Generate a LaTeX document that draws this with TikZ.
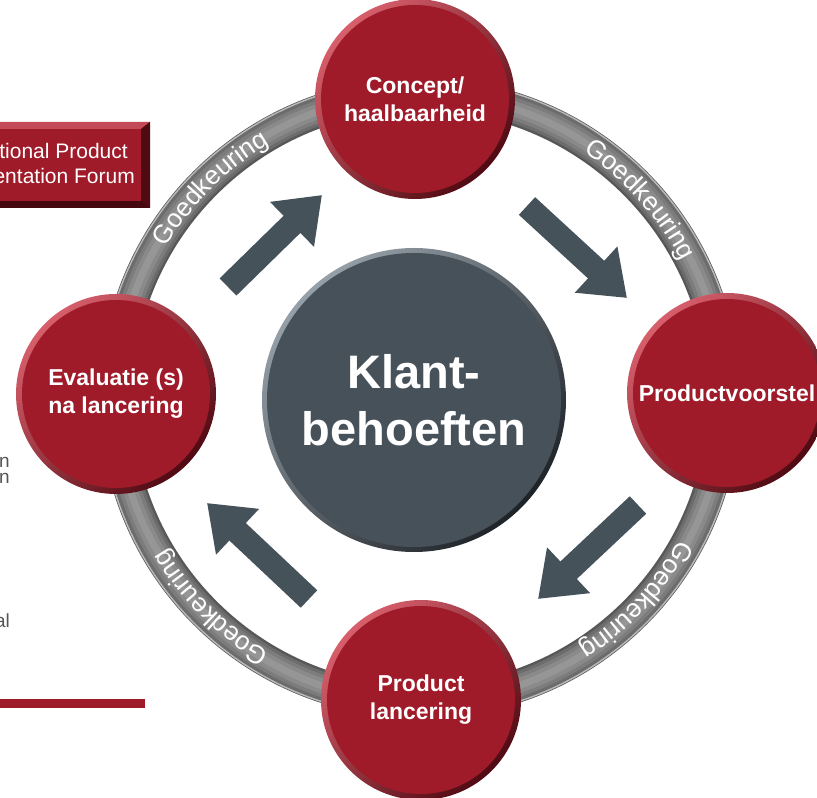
\documentclass[tikz,border=0pt]{standalone}
\usepackage{fontspec}
\setmainfont{Liberation Sans}
\usetikzlibrary{arrows.meta,decorations.text,calc}
\definecolor{redmain}{RGB}{160,27,42}
\definecolor{rimlight}{RGB}{215,95,108}
\definecolor{rimdark}{RGB}{80,10,18}
\definecolor{slatemain}{RGB}{71,81,90}
\definecolor{slatelight}{RGB}{150,160,168}
\definecolor{slatedark}{RGB}{30,35,40}
\definecolor{arrowc}{RGB}{70,82,90}
\definecolor{fragtext}{RGB}{85,85,85}
\definecolor{ringA}{RGB}{88,88,88}
\definecolor{ringB}{RGB}{108,108,108}
\definecolor{ringC}{RGB}{124,124,124}
\definecolor{ringD}{RGB}{138,138,138}
\definecolor{ringE}{RGB}{150,150,150}
\definecolor{ringH}{RGB}{185,185,185}
\definecolor{boxlight}{RGB}{195,75,88}
\definecolor{boxdark}{RGB}{70,8,15}
\newcommand{\ringfont}{\fontsize{26}{26}\selectfont}
\begin{document}
\begin{tikzpicture}[x=1pt,y=1pt,
  redball/.style={circle, minimum size=200pt, inner sep=0pt, draw=none,
    top color=rimlight, bottom color=rimdark, shading angle=45,
    path picture={\fill[redmain] (path picture bounding box.center) circle (94pt);},
    text=white, font=\bfseries\fontsize{23}{28}\selectfont, align=center},
  slateball/.style={circle, minimum size=304pt, inner sep=0pt, draw=none,
    top color=slatelight, bottom color=slatedark, shading angle=45,
    path picture={\fill[slatemain] (path picture bounding box.center) circle (147pt);},
    text=white, font=\bfseries\fontsize{47}{57}\selectfont, align=center},
  bigarrow/.style={line width=24pt, color=arrowc, -{Triangle[width=60pt,length=42pt]}},
  frag/.style={anchor=base east, inner sep=0pt, text=fragtext, font=\fontsize{19}{19}\selectfont},
  boxtext/.style={anchor=base east, inner sep=0pt, text=white, font=\fontsize{21}{21}\selectfont},
]
\useasboundingbox (0,0) rectangle (817,798);
\clip (0,0) rectangle (817,798);

% ring
\coordinate (C) at (420,400);
\foreach \w/\c in {33/ringA, 28/ringB, 22/ringC, 15/ringD, 7/ringE}
  \draw[line width=\w pt, color=\c] (C) circle (304pt);
\draw[line width=1.5pt, color=ringH] (C) circle (319pt);

% ring labels
\foreach \a in {135,42,-43,-135}{
  \pgfmathsetmacro{\sa}{\a+40}
  \pgfmathsetmacro{\ea}{\a-40}
  \path[decorate, decoration={text along path, text align=center, text color=white,
      text={|\ringfont|Goedkeuring}}]
    ($(C)+(\sa:295pt)$) arc[start angle=\sa, end angle=\ea, radius=295pt];
}

% arrows
\coordinate (t1) at (228,511); \coordinate (h1) at (322,603);
\coordinate (t2) at (527,592); \coordinate (h2) at (627,500);
\coordinate (t3) at (638,293); \coordinate (h3) at (538,199);
\coordinate (t4) at (309,199); \coordinate (h4) at (207,295);
\draw[bigarrow] (t1) -- (h1);
\draw[bigarrow] (t2) -- (h2);
\draw[bigarrow] (t3) -- (h3);
\draw[bigarrow] (t4) -- (h4);

% circles
\node[redball] (concept) at (415,699) {Concept/\\haalbaarheid};
\node[redball] (voorstel) at (727,405) {Productvoorstel};
\node[redball] (lancering) at (421,98) {Product\\lancering};
\node[redball] (evaluatie) at (116,404) {Evaluatie (s)\\na lancering};
\node[slateball] (klant) at (414,398) {Klant-\\behoeften};

% left clipped box
\fill[boxdark] (-5,590) rectangle (150,676);
\fill[boxlight] (-5,676) -- (150,676) -- (143,669) -- (-5,669) -- cycle;
\fill[rimdark] (150,676) -- (150,590) -- (141,598) -- (141,669) -- cycle;
\fill[redmain] (-5,597) rectangle (141,669);
\node[boxtext] (box1) at (128,639) {tional Product};
\node[boxtext] (box2) at (135,614) {entation Forum};

% left fragments
\node[frag] (f1) at (10,330) {n};
\node[frag] (f2) at (10,314) {n};
\node[frag] (f3) at (10,170) {al};

% bottom bar
\fill[redmain] (0,90) rectangle (145,99);
\end{tikzpicture}
\end{document}
